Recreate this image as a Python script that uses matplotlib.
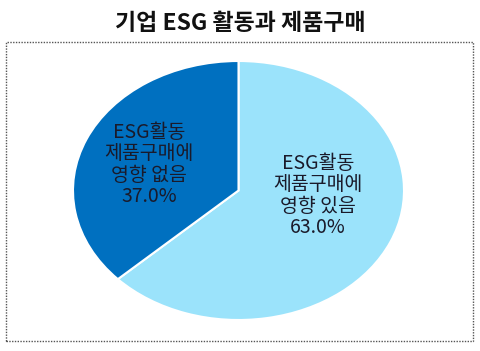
import matplotlib
matplotlib.use("Agg")
import matplotlib.pyplot as plt
import matplotlib.patches as mpatches

plt.rcParams['font.family'] = ['Noto Sans CJK KR', 'DejaVu Sans']

title = "기업 ESG 활동과 제품구매"
labels = ["ESG활동\n제품구매에\n영향 있음", "ESG활동\n제품구매에\n영향 없음"]
values = [63.0, 37.0]
colors = ["#9be3fb", "#0070c0"]
# label anchor spots in the pie's data space
label_xy = [(0.48, -0.04), (-0.54, 0.20)]

fig = plt.figure(figsize=(4.81, 3.51), dpi=100)
fig.patch.set_facecolor("white")

# dotted frame around the plot area
frame = mpatches.Rectangle((6 / 481, 1 - 341 / 351), 467 / 481, 299 / 351,
                           transform=fig.transFigure, fill=False,
                           edgecolor="#555555", linestyle=(0, (1, 1)), linewidth=1.0)
fig.patches.append(frame)

fig.text(0.5, 1 - 24 / 351, title, ha="center", va="center",
         fontsize=16.5, fontweight="bold", color="#111111")

# pie is stretched wide, so let the axes have free aspect
ax = fig.add_axes([73 / 481, 31 / 351, 331 / 481, 259 / 351])
ax.pie(values, colors=colors, startangle=90, counterclock=False,
       wedgeprops=dict(edgecolor="white", linewidth=1.5))
ax.set_aspect("auto")
ax.set_xlim(-1, 1)
ax.set_ylim(-1, 1)
ax.axis("off")

for (x, y), lab, v in zip(label_xy, labels, values):
    ax.text(x, y, f"{lab}\n{v:.1f}%", ha="center", va="center",
            fontsize=14, fontweight="medium", color="#1a1a2a", linespacing=1.03)

fig.savefig("out.png", dpi=100)
